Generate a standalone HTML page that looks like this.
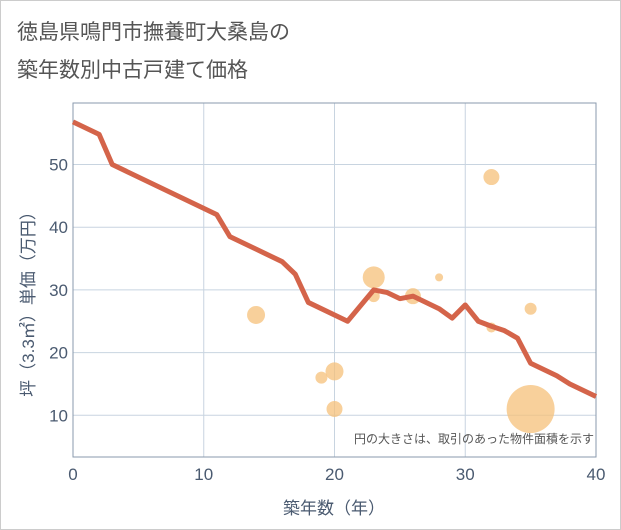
<!DOCTYPE html>
<html><head><meta charset="utf-8"><style>
body{margin:0;background:#fff;}
#wrap{position:relative;width:621px;height:530px;font-family:"Liberation Sans","Noto Sans CJK JP",sans-serif;}
#frame{position:absolute;left:0;top:0;width:619px;height:528px;border:1px solid #ccc;}
.title{position:absolute;left:17px;font-size:21px;color:#555;}
</style></head><body>
<div id="wrap">
<div id="frame"></div>
<div class="title" style="top:16px">徳島県鳴門市撫養町大桑島の</div>
<div class="title" style="top:54px">築年数別中古戸建て価格</div>
<svg id="chart" width="621" height="530" style="position:absolute;left:0;top:0"></svg>
</div>
<script>
const lineAges=[0,2,3,11,12,16,17,18,21,23,24,25,26,28,29,30,31,32,33,34,35,37,38,40];
const linePrices=[56.8,54.8,50,42,38.5,34.5,32.5,28,25,30,29.6,28.6,29,27,25.5,27.6,25,24.2,23.5,22.3,18.3,16.3,15,13];
const bubbleAges=[14,19,20,20,23,23,26,28,32,32,35,35];
const bubblePrices=[26,16,17,11,32,29,29,32,48,24,27,11];
const bubbleSizes=[9,6,9,8,11,6,8,4,8,5,6,24];
const xTicks=[0,10,20,30,40];
const yTicks=[10,20,30,40,50];
const L=73,R=596,T=103,B=457;
const xs=v=>L+(v/40)*(R-L);
const ys=v=>478-(v/10)*62.7;
const svg=document.getElementById('chart');
const NS='http://www.w3.org/2000/svg';
function mk(t,a,p){const e=document.createElementNS(NS,t);for(const k in a)e.setAttribute(k,a[k]);(p||svg).appendChild(e);return e;}
const bg=mk('rect',{x:L,y:T,width:R-L,height:B-T,fill:'#fff'});


xTicks.forEach(v=>{
 const g=mk('line',{x1:xs(v),x2:xs(v),y1:T,y2:B,stroke:'#c8d4e0','stroke-width':1});
 
 
 const t=mk('text',{x:xs(v),y:480,'text-anchor':'middle','font-size':17,fill:'#4a5a70'});
 t.textContent=v;
 
 
});
yTicks.forEach(v=>{
 const g=mk('line',{x1:L,x2:R,y1:ys(v),y2:ys(v),stroke:'#c8d4e0','stroke-width':1});
 
 
 const t=mk('text',{x:68,y:ys(v)+6,'text-anchor':'end','font-size':17,fill:'#4a5a70'});
 t.textContent=v;
 
 
});
const ax=mk('rect',{x:L,y:T,width:R-L,height:B-T,fill:'none',stroke:'#8a9aac','stroke-width':1});


bubbleAges.forEach((a,i)=>{
 const c=mk('circle',{cx:xs(a),cy:ys(bubblePrices[i]),r:bubbleSizes[i],fill:'#f5c07a','fill-opacity':0.75});
 
 
});
const pl=mk('polyline',{points:lineAges.map((a,i)=>xs(a)+','+ys(linePrices[i])).join(' '),fill:'none',stroke:'#d4644a','stroke-width':5,'stroke-linejoin':'round'});


const note=mk('text',{x:594,y:443,'text-anchor':'end','font-size':12,fill:'#555'});
note.textContent='円の大きさは、取引のあった物件面積を示す';


const xt=mk('text',{x:334,y:514,'text-anchor':'middle','font-size':17,fill:'#4a5a70'});
xt.textContent='築年数（年）';


const yt=mk('text',{x:0,y:0,'text-anchor':'middle','font-size':17,fill:'#4a5a70',transform:'translate(34,300) rotate(-90)'});
yt.textContent='坪（3.3㎡）単価（万円）';


</script>
</body></html>
